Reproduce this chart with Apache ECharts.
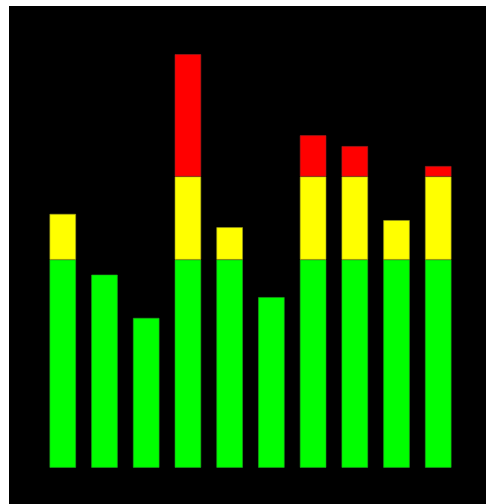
<!DOCTYPE html>
<html>
<head>
<meta charset="utf-8">
<script src="https://cdn.jsdelivr.net/npm/echarts@6/dist/echarts.min.js"></script>
<style>
html,body{margin:0;padding:0;background:#fff;overflow:hidden;}
#chart{position:absolute;left:9px;top:6px;width:477px;height:498px;background:#000;}
</style>
</head>
<body>
<div id="chart"></div>
<script>
var categories = ['1','2','3','4','5','6','7','8','9','10'];
var values = [61, 46.4, 36, 99.4, 57.8, 41, 79.9, 77.3, 59.5, 72.5];
var greenLimit = 50;
var yellowLimit = 70;

var greenData = values.map(function(v){ return Math.min(v, greenLimit); });
var yellowData = values.map(function(v){ var d = Math.min(v, yellowLimit) - greenLimit; return d > 0 ? d : '-'; });
var redData = values.map(function(v){ var d = v - yellowLimit; return d > 0 ? d : '-'; });

var chart = echarts.init(document.getElementById('chart'), null, {renderer:'canvas'});
function seg(name, data, color, edge){
  return {
    name: name, type: 'bar', stack: 'level', data: data, barWidth: 26.4,
    itemStyle: {color: color, borderColor: edge, borderWidth: 0.6},
    animation: false, silent: true
  };
}
chart.setOption({
  backgroundColor: '#000',
  animation: false,
  grid: {left: 32.9, top: 45.7, width: 417.2, height: 416},
  xAxis: {type: 'category', data: categories, show: false},
  yAxis: {type: 'value', min: 0, max: 100, show: false},
  series: [
    seg('green', greenData, '#00ff00', '#20a020'),
    seg('yellow', yellowData, '#ffff00', '#a0a020'),
    seg('red', redData, '#ff0000', '#a02020')
  ]
});
</script>
</body>
</html>
